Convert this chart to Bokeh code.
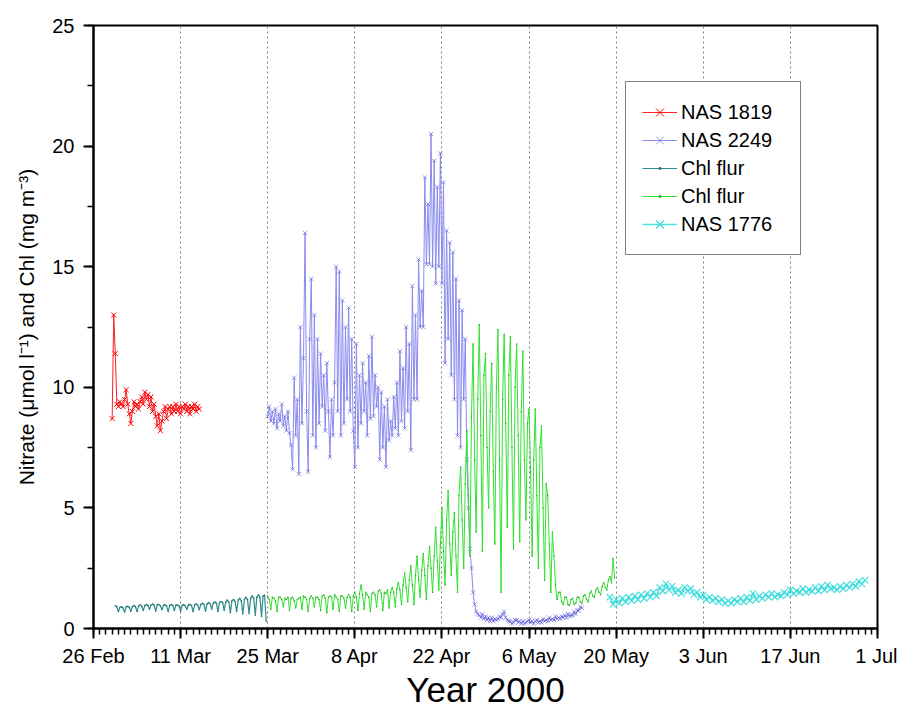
from bokeh.plotting import figure
from bokeh.models import FixedTicker, Range1d, Legend, LegendItem
from bokeh.embed import file_html
from bokeh.resources import INLINE

# ---- axis definitions (days since 26 Feb 2000) ----
tick_days = [0, 14, 28, 42, 56, 70, 84, 98, 112, 126]
tick_labels = ["26 Feb", "11 Mar", "25 Mar", "8 Apr", "22 Apr", "6 May",
               "20 May", "3 Jun", "17 Jun", "1 Jul"]
y_ticks = [0, 5, 10, 15, 20, 25]
y_minor = [0, 2.5, 5, 7.5, 10, 12.5, 15, 17.5, 20, 22.5, 25]

# ---- series (start day, sampling step in days, values) ----
nas1819_start, nas1819_step = 3.0, 0.25
nas1819 = [8.7, 13.0, 11.4, 9.3, 9.2, 9.4, 9.3, 9.2, 9.5, 9.9, 9.3, 8.9, 8.5, 9.0,
           9.4, 9.2, 9.3, 9.1, 9.4, 9.6, 9.3, 9.8, 9.5, 9.7, 9.2, 9.6, 9.0, 9.3,
           8.8, 8.4, 8.9, 8.2, 8.6, 9.0, 9.2, 8.7, 9.1, 9.2, 8.9, 9.2, 9.0, 9.3,
           9.0, 9.2, 8.9, 9.2, 9.1, 9.3, 9.0, 9.2, 8.9, 9.2, 9.1, 9.3, 9.0, 9.2, 9.1]

nas2249_start, nas2249_step = 28.0, 0.25
nas2249 = [8.8, 9.2, 8.6, 9.0, 8.5, 9.1, 8.3, 8.9, 8.6, 9.3, 8.4, 8.8, 8.2, 9.0, 8.1, 7.6,
           6.6, 10.4, 8.0, 9.5, 6.4, 12.5, 8.5, 11.2, 16.4, 9.0, 6.5, 12.0, 14.5, 8.0, 13.0, 7.5,
           12.0, 8.5, 11.4, 9.2, 10.5, 8.2, 11.0, 9.0, 7.1, 9.5, 8.0, 10.2, 15.0, 9.0, 14.8, 8.0,
           13.6, 8.5, 12.5, 9.5, 13.3, 9.0, 12.0, 8.2, 6.7, 11.8, 7.5, 10.5, 8.5, 11.0, 9.0, 10.2,
           8.0, 11.3, 8.7, 12.1, 8.8, 10.5, 9.2, 10.0, 7.0, 9.8, 7.5, 9.2, 6.7, 9.5, 7.8, 8.6,
           8.0, 9.6, 8.3, 10.2, 8.0, 11.5, 8.6, 10.8, 8.3, 12.5, 9.0, 11.8, 7.4, 14.2, 9.5, 13.0,
           9.5, 15.3, 12.5, 14.0, 12.5, 18.7, 15.1, 17.6, 15.1, 20.5, 15.0, 19.4, 14.3, 18.3, 15.0, 19.7,
           14.3, 18.5, 11.0, 16.5, 12.0, 16.0, 10.5, 15.6, 9.5, 14.5, 8.0, 13.6, 7.5, 13.2, 9.5, 12.0,
           7.0, 5.0, 3.3, 2.5, 1.5, 1.0, 0.7, 0.6,
           0.55, 0.45, 0.6, 0.4, 0.5, 0.35, 0.45, 0.3, 0.45, 0.3, 0.4, 0.35, 0.4, 0.5, 0.45, 0.6,
           0.7, 0.45, 0.35, 0.3, 0.3, 0.2, 0.25, 0.35, 0.35, 0.25, 0.3, 0.2, 0.3, 0.2, 0.25, 0.3,
           0.35, 0.25, 0.3, 0.2, 0.3, 0.35, 0.25, 0.3, 0.25, 0.4, 0.3, 0.35, 0.3, 0.45, 0.35, 0.4,
           0.35, 0.5, 0.4, 0.45, 0.4, 0.5, 0.45, 0.55, 0.45, 0.6, 0.5, 0.55, 0.55, 0.7, 0.6, 0.75,
           0.75, 0.9, 0.85]

chl1_start, chl1_step = 3.5, 0.25
chl1 = [0.95, 0.9, 0.7, 0.88, 0.9, 0.85, 0.68, 0.9, 0.92, 0.88, 0.72, 0.9,
        0.95, 0.9, 0.7, 0.93, 0.98, 0.92, 0.75, 0.95, 1.0, 0.95, 0.8, 0.97,
        1.02, 0.96, 0.72, 0.98, 1.0, 0.94, 0.78, 0.96, 0.98, 0.93, 0.7, 0.95,
        1.0, 0.95, 0.75, 0.97, 0.97, 0.93, 0.72, 0.96, 0.98, 0.94, 0.8, 0.97,
        1.0, 0.95, 0.7, 0.98, 1.02, 0.97, 0.78, 1.0, 1.05, 1.0, 0.72, 1.02,
        1.08, 1.02, 0.8, 1.05, 1.1, 1.05, 0.7, 1.08, 1.12, 1.08, 0.75, 1.1,
        1.18, 1.1, 0.65, 1.15, 1.2, 1.12, 0.7, 1.18, 1.25, 1.15, 0.6, 1.2,
        1.3, 1.2, 0.62, 1.25, 1.35, 1.25, 0.55, 1.3, 1.4, 1.3, 0.5, 1.35,
        1.38, 0.3]

chl2_start, chl2_step = 28.0, 0.25
chl2 = [1.35, 1.2, 0.8, 1.3, 1.25, 1.15, 0.7, 1.3, 1.3, 1.2, 0.9, 1.25, 1.2, 1.3, 0.75, 1.25,
        1.3, 1.15, 0.85, 1.2, 1.25, 1.3, 0.8, 1.35, 1.3, 1.2, 0.7, 1.25, 1.35, 1.25, 0.9, 1.3,
        1.3, 1.2, 0.75, 1.35, 1.4, 1.25, 0.65, 1.3, 1.35, 1.3, 0.8, 1.4, 1.3, 1.2, 0.7, 1.35,
        1.35, 1.25, 0.85, 1.3, 1.4, 1.3, 0.7, 1.35, 1.5, 1.3, 0.75, 1.45, 1.8, 1.4, 0.8, 1.5,
        1.4, 1.3, 0.7, 1.45, 1.5, 1.4, 0.9, 1.55, 1.6, 1.45, 0.75, 1.5, 1.45, 1.6, 0.85, 1.5,
        1.7, 1.5, 0.9, 1.65, 1.9, 1.6, 1.0, 1.8, 2.3, 1.7, 1.1, 2.0, 2.6, 1.8, 1.0, 2.2,
        3.0, 2.0, 1.3, 2.4, 3.1, 2.2, 1.2, 2.6, 3.4, 2.5, 1.5, 3.0, 4.2, 2.8, 1.6, 3.5,
        5.0, 3.2, 1.8, 4.5, 5.7, 3.5, 2.2, 4.0, 4.8, 3.0, 1.5, 5.5, 6.7, 4.5, 2.5, 6.0,
        8.2, 5.5, 3.0, 8.8, 11.8, 7.0, 4.0, 9.5, 12.6, 8.0, 3.2, 10.5, 11.4, 7.5, 5.0, 9.0,
        11.0, 6.5, 3.5, 10.0, 12.4, 7.0, 1.5, 9.5, 12.2, 8.5, 4.2, 10.5, 12.1, 7.5, 3.3, 10.0,
        11.8, 8.0, 3.6, 9.0, 11.5, 7.0, 4.5, 8.5, 9.1, 6.5, 3.0, 7.0, 9.1, 5.5, 2.5, 7.5,
        8.4, 5.0, 2.0, 6.0, 5.5, 3.5, 1.5, 4.0, 3.0, 1.8, 1.2, 1.5, 1.5, 1.1, 1.0, 1.3,
        1.3, 1.0, 0.95, 1.2, 1.25, 1.0, 1.05, 1.3, 1.3, 1.1, 1.05, 1.35, 1.4, 1.2, 1.1, 1.45,
        1.55, 1.35, 1.3, 1.6, 1.7, 1.5, 1.4, 1.75, 1.9, 1.7, 1.6, 2.0, 2.15, 1.9, 2.9, 2.1]

nas1776_start, nas1776_step = 83.0, 0.5
nas1776 = [1.3, 1.0, 1.2, 1.05, 1.25, 1.1, 1.3, 1.15, 1.35, 1.2, 1.4, 1.25, 1.45, 1.3,
           1.5, 1.35, 1.7, 1.55, 1.85, 1.6, 1.75, 1.5, 1.6, 1.45, 1.7, 1.55, 1.65, 1.4,
           1.5, 1.3, 1.4, 1.2, 1.3, 1.15, 1.25, 1.1, 1.2, 1.05, 1.15, 1.05, 1.2, 1.1,
           1.25, 1.1, 1.3, 1.15, 1.45, 1.2, 1.35, 1.25, 1.4, 1.3, 1.45, 1.3, 1.4, 1.35,
           1.5, 1.4, 1.6, 1.45, 1.55, 1.5, 1.65, 1.5, 1.6, 1.55, 1.7, 1.55, 1.75, 1.6,
           1.8, 1.65, 1.7, 1.6, 1.75, 1.65, 1.8, 1.7, 1.85, 1.75, 1.95, 1.85, 2.0]


def days(start, step, vals):
    return [start + step * i for i in range(len(vals))]


FONT = "Liberation Sans"

p = figure(width=897, height=711, output_backend="svg", toolbar_location=None,
           x_range=Range1d(0, 126), y_range=Range1d(0, 25),
           min_border_left=93, min_border_right=20, min_border_top=25,
           min_border_bottom=82)
p.background_fill_color = "white"
p.border_fill_color = "white"
p.outline_line_color = "black"
p.outline_line_width = 2

# x axis
p.xaxis.ticker = FixedTicker(ticks=tick_days, minor_ticks=list(range(0, 127)))
p.xaxis.major_label_overrides = {d: s for d, s in zip(tick_days, tick_labels)}
p.xaxis.axis_label = "Year 2000"
p.xaxis.axis_label_text_font_size = "35px"
p.xaxis.axis_label_standoff = 0
p.xaxis.major_label_standoff = 6
# y axis
p.yaxis.ticker = FixedTicker(ticks=y_ticks, minor_ticks=y_minor)
p.yaxis.axis_label = "Nitrate (\u03bcmol l\u207b\u00b9) and Chl (mg m\u207b\u00b3)"
p.yaxis.axis_label_text_font_size = "21px"
p.yaxis.axis_label_standoff = 11
p.yaxis.major_label_standoff = 9

for ax in (p.xaxis[0], p.yaxis[0]):
    ax.axis_label_text_font = FONT
    ax.axis_label_text_font_style = "normal"
    ax.axis_label_text_color = "black"
    ax.major_label_text_font = FONT
    ax.major_label_text_font_size = "20px"
    ax.major_label_text_color = "black"
    ax.axis_line_width = 2
    ax.axis_line_color = "black"
    ax.major_tick_in = 0
    ax.major_tick_out = 10
    ax.major_tick_line_width = 2
    ax.minor_tick_in = 0
    ax.minor_tick_out = 6
    ax.minor_tick_line_width = 1.5
    ax.minor_tick_line_color = "black"

p.xgrid.ticker = FixedTicker(ticks=tick_days)
p.xgrid.grid_line_color = "#808080"
p.xgrid.grid_line_dash = "2 3"
p.xgrid.grid_line_width = 1
p.ygrid.grid_line_color = None

# series
x1 = days(nas1819_start, nas1819_step, nas1819)
r1l = p.line(x1, nas1819, line_color="#FF2020", line_width=1)
r1m = p.scatter(x1, nas1819, marker="x", size=7, line_color="#FF0000", line_width=1)

x2 = days(nas2249_start, nas2249_step, nas2249)
r2l = p.line(x2, nas2249, line_color="#8A8AF0", line_width=1)
r2m = p.scatter(x2, nas2249, marker="x", size=6, line_color="#5A5AD6", line_width=1, line_alpha=0.6)

x3 = days(chl1_start, chl1_step, chl1)
r3l = p.line(x3, chl1, line_color="#2E8C8C", line_width=1.2)
r3m = p.scatter(x3, chl1, marker="dot", size=6, line_color="#1F6F6F")

x4 = days(chl2_start, chl2_step, chl2)
r4l = p.line(x4, chl2, line_color="#33E033", line_width=1)
r4m = p.scatter(x4, chl2, marker="dot", size=6, line_color="#20B020")

x5 = days(nas1776_start, nas1776_step, nas1776)
r5l = p.line(x5, nas1776, line_color="#50E3E3", line_width=1.5)
r5m = p.scatter(x5, nas1776, marker="x", size=9, line_color="#40DDDD", line_width=1.2)

legend = Legend(items=[
    LegendItem(label="NAS 1819", renderers=[r1l, r1m]),
    LegendItem(label="NAS 2249", renderers=[r2l, r2m]),
    LegendItem(label="Chl flur", renderers=[r3l, r3m]),
    LegendItem(label="Chl flur", renderers=[r4l, r4m]),
    LegendItem(label="NAS 1776", renderers=[r5l, r5m]),
], location=(532, 373))
legend.label_text_font = FONT
legend.label_text_font_size = "20px"
legend.label_text_color = "black"
legend.padding = 16
legend.spacing = 0
legend.glyph_width = 35
legend.glyph_height = 28
legend.label_height = 28
legend.label_width = 103
legend.label_standoff = 4
legend.margin = 0
legend.border_line_color = "black"
legend.border_line_width = 1.5
legend.background_fill_color = "white"
legend.background_fill_alpha = 1
p.add_layout(legend, "center")

open("out.html", "w").write(file_html(p, INLINE))
